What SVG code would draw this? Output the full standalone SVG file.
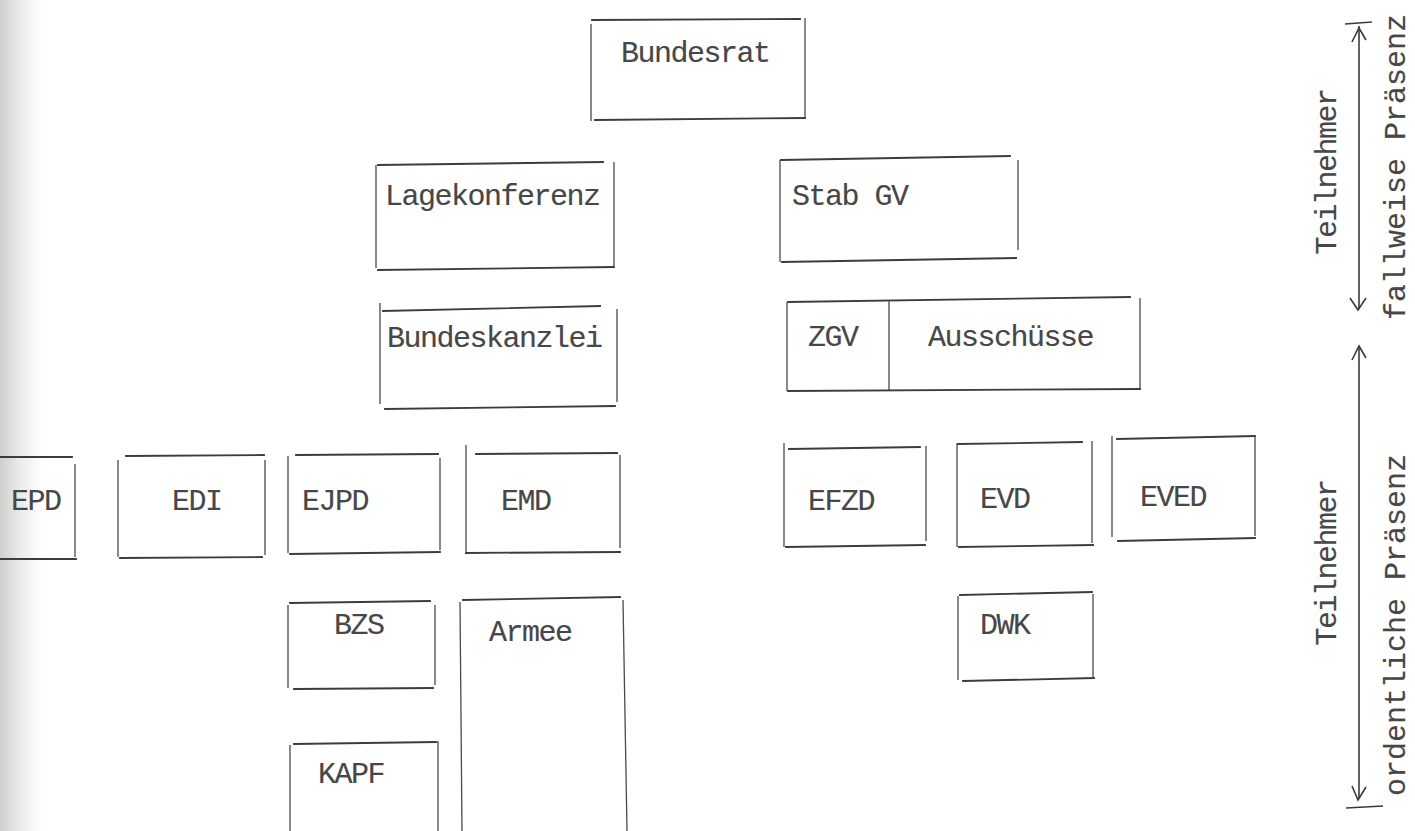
<svg xmlns="http://www.w3.org/2000/svg" width="1415" height="831" viewBox="0 0 1415 831">
<defs>
<linearGradient id="scan" x1="0" y1="0" x2="1" y2="0">
<stop offset="0" stop-color="#cfcfcf"/>
<stop offset="0.5" stop-color="#ececec"/>
<stop offset="1" stop-color="#ffffff"/>
</linearGradient>
<style>
.bx{fill:none;stroke:#3c3c3c;stroke-width:1.8;stroke-linecap:square}
.vl{fill:none;stroke:#4a4a4a;stroke-width:1.3}
.t{font-family:"Liberation Mono","Courier New",monospace;font-size:30px;letter-spacing:-1.5px;fill:#474747;stroke:#474747;stroke-width:0.15}
.w{letter-spacing:0px}
.ar{fill:none;stroke:#3a3a3a;stroke-width:1.6}
</style>
</defs>
<rect width="1415" height="831" fill="#ffffff"/>
<rect x="0" y="0" width="42" height="831" fill="url(#scan)"/>

<g id="bundesrat">
<path class="bx" d="M592 20 L800 19"/><path class="bx" d="M595 120 L805 118"/>
<path class="vl" d="M591 24 L591 121 M805 18 L805 118"/>
<text class="t" x="621" y="62">Bundesrat</text>
</g>
<g id="lagekonferenz">
<path class="bx" d="M378 165 L603 162"/><path class="bx" d="M378 270 L614 267"/>
<path class="vl" d="M376 165 L376 268 M614 162 L614 266"/>
<text class="t" x="385" y="205">Lagekonferenz</text>
</g>
<g id="stabgv">
<path class="bx" d="M781 160 L1010 156"/><path class="bx" d="M782 262 L1016 258"/>
<path class="vl" d="M780 160 L780 262 M1018 160 L1018 250"/>
<text class="t" x="792" y="205">Stab GV</text>
</g>
<g id="bundeskanzlei">
<path class="bx" d="M383 311 L600 306"/><path class="bx" d="M385 409 L615 406"/>
<path class="vl" d="M380 303 L380 404 M617 309 L617 402"/>
<text class="t" x="387" y="347">Bundeskanzlei</text>
</g>
<g id="zgv-ausschuesse">
<path class="bx" d="M788 302 L1130 297"/><path class="bx" d="M788 391 L1140 389"/>
<path class="vl" d="M787 302 L787 391 M889 300 L889 390 M1140 298 L1140 389"/>
<text class="t" x="808" y="346">ZGV</text>
<text class="t" x="928" y="346">Ausschüsse</text>
</g>
<g id="epd">
<path class="bx" d="M0 457 L72 457"/><path class="bx" d="M0 559 L76 559"/>
<path class="vl" d="M75 464 L75 557"/>
<text class="t" x="11" y="510">EPD</text>
</g>
<g id="edi">
<path class="bx" d="M126 456 L264 455"/><path class="bx" d="M120 558 L262 557"/>
<path class="vl" d="M118 460 L118 557 M265 460 L265 555"/>
<text class="t" x="172" y="510">EDI</text>
</g>
<g id="ejpd">
<path class="bx" d="M296 455 L438 454"/><path class="bx" d="M290 554 L440 552"/>
<path class="vl" d="M288 456 L288 553 M440 458 L440 550"/>
<text class="t" x="302" y="510">EJPD</text>
</g>
<g id="emd">
<path class="bx" d="M476 454 L617 453"/><path class="bx" d="M466 553 L620 552"/>
<path class="vl" d="M466 445 L466 552 M620 455 L620 548"/>
<text class="t" x="501" y="510">EMD</text>
</g>
<g id="efzd">
<path class="bx" d="M789 449 L920 447"/><path class="bx" d="M786 547 L925 545"/>
<path class="vl" d="M784 443 L784 547 M926 446 L926 541"/>
<text class="t" x="808" y="510">EFZD</text>
</g>
<g id="evd">
<path class="bx" d="M958 444 L1082 442"/><path class="bx" d="M959 547 L1093 545"/>
<path class="vl" d="M957 443 L957 547 M1092 441 L1092 543"/>
<text class="t" x="980" y="508">EVD</text>
</g>
<g id="eved">
<path class="bx" d="M1117 439 L1255 436"/><path class="bx" d="M1118 541 L1255 538"/>
<path class="vl" d="M1112 436 L1112 537 M1255 437 L1255 536"/>
<text class="t" x="1140" y="506">EVED</text>
</g>
<g id="bzs">
<path class="bx" d="M290 603 L430 601"/><path class="bx" d="M294 689 L433 688"/>
<path class="vl" d="M288 605 L288 688 M435 605 L435 685"/>
<text class="t" x="334" y="634">BZS</text>
</g>
<g id="kapf">
<path class="bx" d="M294 744 L436 742"/>
<path class="vl" d="M290 745 L290 831 M438 741 L438 831"/>
<text class="t" x="318" y="783">KAPF</text>
</g>
<g id="armee">
<path class="bx" d="M463 600 L620 597"/>
<path class="vl" d="M460 602 L462 831 M623 600 L627 831"/>
<text class="t" x="489" y="641">Armee</text>
</g>
<g id="dwk">
<path class="bx" d="M960 595 L1092 592"/><path class="bx" d="M963 681 L1094 678"/>
<path class="vl" d="M958 596 L958 680 M1093 594 L1093 677"/>
<text class="t" x="980" y="634">DWK</text>
</g>

<g id="connectors">
<path class="ar" d="M1345 24 L1372 22"/>
<path class="ar" d="M1359 26 L1359 309"/>
<path class="ar" d="M1352 42 L1359 28 L1366 40"/>
<path class="ar" d="M1350 298 L1358 310 L1366 298"/>
<path class="ar" d="M1359 347 L1359 798"/>
<path class="ar" d="M1352 360 L1359 346 L1366 358"/>
<path class="ar" d="M1352 786 L1358 800 L1366 787"/>
<path class="ar" d="M1346 808 L1383 806"/>
</g>

<g id="legend">
<text class="t" transform="translate(1336 172) rotate(-90)" text-anchor="middle">Teilnehmer</text>
<text class="t w" transform="translate(1405 167) rotate(-90)" text-anchor="middle">fallweise Präsenz</text>
<text class="t" transform="translate(1336 563) rotate(-90)" text-anchor="middle">Teilnehmer</text>
<text class="t w" transform="translate(1405 625) rotate(-90)" text-anchor="middle">ordentliche Präsenz</text>
</g>
</svg>
